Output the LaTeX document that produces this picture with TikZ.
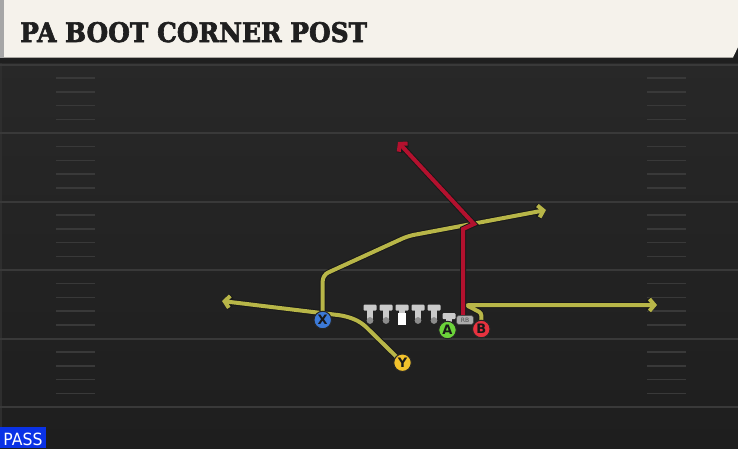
\documentclass[tikz,border=0pt]{standalone}
\usepackage{fontspec}
\setmainfont{DejaVu Sans}
\newfontfamily\titlefont[BoldFeatures={FakeBold=2.5}]{DejaVu Serif}
\usetikzlibrary{arrows.meta}
\definecolor{headbg}{HTML}{F5F2EB}
\definecolor{fieldtop}{HTML}{282828}
\definecolor{fieldbot}{HTML}{1E1E1E}
\definecolor{yardcol}{HTML}{393939}
\definecolor{routeyel}{HTML}{B8B648}
\definecolor{routered}{HTML}{B3112E}
\definecolor{pblue}{HTML}{3C7AD8}
\definecolor{pyellow}{HTML}{F2C22C}
\definecolor{pgreen}{HTML}{6CD33A}
\definecolor{pred}{HTML}{E8323F}
\definecolor{passblue}{HTML}{0A32E6}
\definecolor{olgray}{HTML}{CACACA}
\definecolor{olgraydark}{HTML}{8C8C8C}
\pgfdeclarelayer{field}
\pgfdeclarelayer{routes}
\pgfsetlayers{field,routes,main}
\tikzset{
  yard/.style={draw=yardcol, line width=2pt},
  hashmark/.style={draw=yardcol, line width=1.5pt},
  player/.style={circle, draw=black!85, line width=1pt, minimum size=17.5pt, inner sep=0pt,
    font=\bfseries\fontsize{13}{13}\selectfont, text=black!90},
  route/.style={line width=4pt, line join=miter,
    preaction={draw=black!90, line width=6pt}},
  yelroute/.style={route, draw=routeyel, -{Straight Barb[length=5pt,width=12pt]}},
  redroute/.style={route, draw=routered, -{Straight Barb[length=5pt,width=12pt]}},
  rbbox/.style={fill=olgray!85!black, draw=black!70, line width=0.6pt, rounded corners=2.5pt,
    minimum width=17pt, minimum height=9pt, inner sep=0pt,
    font=\fontsize{6}{6}\selectfont, text=black!70},
  lineman/.pic={
    \fill[olgray, rounded corners=1pt] (-6.5,-16) rectangle (6.5,-10);
    \fill[olgray] (-2.8,-11) rectangle (2.8,0);
    \fill[olgraydark] (0,0) circle (3.4);
  },
  centerman/.pic={
    \fill[olgray, rounded corners=1pt] (-6.5,-16) rectangle (6.5,-10);
    \fill[olgray] (-2.8,-11) rectangle (2.8,-7);
    \fill[white] (-4.3,-7.5) rectangle (4.3,4);
  }
}
\begin{document}
\begin{tikzpicture}[x=1pt,y=-1pt]
\useasboundingbox (0,0) rectangle (738,448);
\begin{pgfonlayer}{field}
  % field
  \fill[top color=fieldtop, bottom color=fieldbot] (0,58) rectangle (738,448);
  \fill[yardcol!80!black] (0,58) rectangle (1.5,448);
  \foreach \yy in {64.5,133,201.5,270,338.5,407}
    \draw[yard] (0,\yy) -- (738,\yy);
  \foreach \k in {1,...,24}{
    \pgfmathtruncatemacro{\m}{mod(\k,5)}
    \ifnum\m>0
      \pgfmathsetmacro{\hy}{64.5+\k*13.7}
      \draw[hashmark] (56,\hy) -- (95,\hy);
      \draw[hashmark] (647,\hy) -- (686,\hy);
    \fi
  }
  % header
  \fill[black!88] (0,57) rectangle (738,63);
  \fill[black!88] (700,40) rectangle (738,63);
  \fill[headbg] (4,0) -- (738,0) -- (738,47) -- (733,57.5) -- (4,57.5) -- cycle;
  \fill[black!35] (0,0) rectangle (4,57.5);
\end{pgfonlayer}

\node[anchor=base west, inner sep=0pt, text=black!88] (title) at (20,42)
  {\resizebox{347pt}{20pt}{\titlefont\bfseries PA BOOT CORNER POST}};

\node[fill=passblue, anchor=south west, minimum width=46pt, minimum height=21pt, inner sep=0pt] (pass) at (0,448) {};
\node[text=white, inner sep=0pt, anchor=base] (passtext) at (23,445)
  {\resizebox{39pt}{12.5pt}{PASS}};

% offensive line
\pic at (370,320.5) {lineman};
\pic at (386,320.5) {lineman};
\pic at (402,320.5) {centerman};
\pic at (418,320.5) {lineman};
\pic at (434,320.5) {lineman};
\pic at (449,329) {lineman};

% players
\node[player, fill=pblue] (X) at (322.7,320) {X};
\node[player, fill=pyellow] (Y) at (402.5,362.7) {Y};
\node[rbbox] (RB) at (465,320) {RB};
\node[player, fill=pgreen] (A) at (447.5,330) {A};
\node[player, fill=pred] (B) at (481.3,329) {B};

\coordinate (yend) at (222,301);
\coordinate (xend) at (546,210);
\coordinate (bend) at (657,305);
\coordinate (rend) at (398,142);

\begin{pgfonlayer}{routes}
  \draw[yelroute, rounded corners=7pt] (Y.center) -- (361,322) -- (346,316) -- (yend);
  \draw[yelroute, rounded corners=6pt] (X.center) -- (322.7,275) -- (408,236) -- (xend);
  \draw[yelroute, rounded corners=3pt] (B.center) -- (481.5,313) -- (466,305) -- (bend);
  \draw[redroute] (463,316) -- (463,229) -- (474,224) -- (rend);
\end{pgfonlayer}
\end{tikzpicture}
\end{document}
